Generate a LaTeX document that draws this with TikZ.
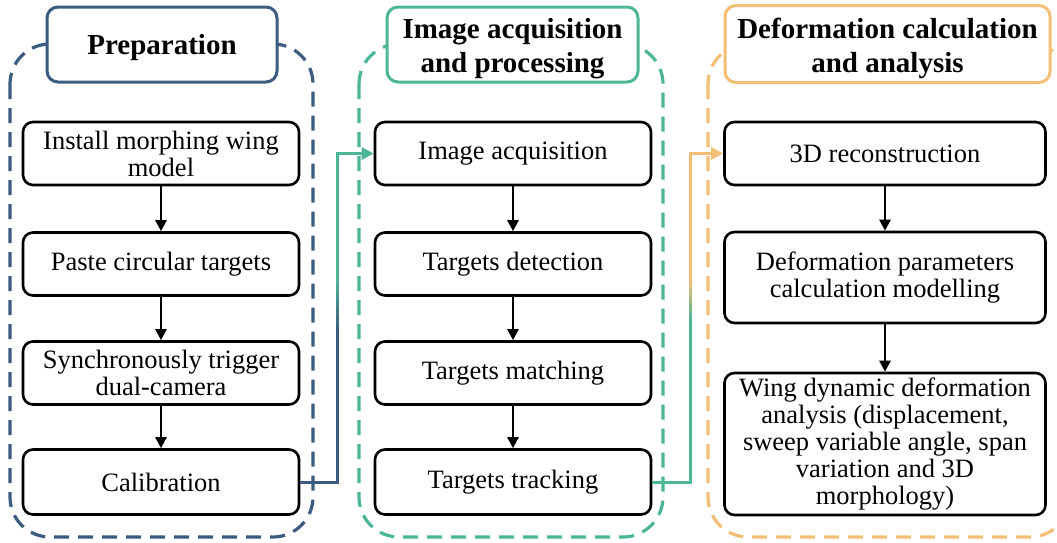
\documentclass[tikz,border=0pt]{standalone}
\usepackage{fontspec}
\setmainfont{Liberation Serif}
\usetikzlibrary{arrows.meta,calc}

\definecolor{prepblue}{RGB}{59,92,128}
\definecolor{procteal}{RGB}{77,182,150}
\definecolor{anaorange}{RGB}{245,190,118}

\tikzset{
  stepbox/.style={draw=black, line width=2.6pt, rounded corners=10pt, fill=white,
    align=center, inner sep=2pt, font=\fontsize{26.5}{27}\selectfont},
  titleframe/.style={line width=3pt, rounded corners=11pt, fill=white, inner sep=0pt},
  titletext/.style={align=center, inner sep=0pt, font=\fontsize{29}{34}\selectfont\bfseries},
  group/.style={line width=3.2pt, rounded corners=40pt, dash pattern=on 15pt off 9pt},
  flow/.style={line width=2.4pt, -{Triangle[length=11pt,width=11pt]}},
  link/.style={line width=3pt},
  linkhead/.style={line width=3pt, -{Triangle[length=12pt,width=12pt]}},
}

\begin{document}
\begin{tikzpicture}[x=1pt, y=-1pt]
\useasboundingbox (0,0) rectangle (1057,542);

% dashed group outlines
\draw[group, prepblue]  (10,44)  rectangle (313,537);
\draw[group, procteal]  (359,44) rectangle (663,537);
\draw[group, anaorange] (708,44) rectangle (1070,537);

% group titles: frame plus text
\node[titleframe, draw=prepblue, minimum width=230pt, minimum height=75pt]  (t1) at (162,44.5) {};
\node[titleframe, draw=procteal, minimum width=251pt, minimum height=75pt]  (t2) at (512.5,44.5) {};
\node[titleframe, draw=anaorange, minimum width=325pt, minimum height=77pt] (t3) at (887.5,44) {};
\node[titletext] (t1txt) at ($(t1.center)+(0,3)$) {Preparation};
\node[titletext] (t2txt) at ($(t2.center)+(0,4)$) {Image acquisition\\and processing};
\node[titletext] (t3txt) at ($(t3.center)+(0,4)$) {Deformation calculation\\and analysis};

% preparation steps
\node[stepbox, minimum width=276pt, minimum height=63pt] (p1) at (161,153.5) {Install morphing wing\\model};
\node[stepbox, minimum width=276pt, minimum height=63pt] (p2) at (161,264) {Paste circular targets};
\node[stepbox, minimum width=276pt, minimum height=63pt] (p3) at (161,373) {Synchronously trigger\\dual-camera};
\node[stepbox, minimum width=276pt, minimum height=65pt] (p4) at (161,482) {Calibration};

% image acquisition and processing steps
\node[stepbox, minimum width=276pt, minimum height=63pt] (a1) at (513,153.5) {Image acquisition};
\node[stepbox, minimum width=276pt, minimum height=63pt] (a2) at (513,264) {Targets detection};
\node[stepbox, minimum width=276pt, minimum height=63pt] (a3) at (513,373) {Targets matching};
\node[stepbox, minimum width=276pt, minimum height=65pt] (a4) at (513,482) {Targets tracking};

% deformation calculation and analysis steps
\node[stepbox, minimum width=321pt, minimum height=63pt] (d1) at (885,153.5) {3D reconstruction};
\node[stepbox, minimum width=321pt, minimum height=91pt] (d2) at (885,277.5) {Deformation parameters\\calculation modelling};
\node[stepbox, minimum width=321pt, minimum height=142pt] (d3) at (885,444) {Wing dynamic deformation\\analysis (displacement,\\sweep variable angle, span\\variation and 3D\\morphology)};

% arrows inside each group
\draw[flow] (p1) -- (p2);
\draw[flow] (p2) -- (p3);
\draw[flow] (p3) -- (p4);
\draw[flow] (a1) -- (a2);
\draw[flow] (a2) -- (a3);
\draw[flow] (a3) -- (a4);
\draw[flow] (d1) -- (d2);
\draw[flow] (d2) -- (d3);

% links between groups, with a colour blend on the rising part
\coordinate (j1lo) at (337,330);
\coordinate (j1hi) at (337,280);
\draw[link, prepblue] (p4.east) -| (j1lo);
\foreach \k in {0,...,9}{
  \pgfmathtruncatemacro\pc{\k*10+5}
  \draw[link, color=procteal!\pc!prepblue] ($(j1lo)+(0,-5*\k+0.4)$) -- ($(j1lo)+(0,-5*\k-5.4)$);
}
\draw[linkhead, procteal] (j1hi) |- (a1.west);

\coordinate (j2lo) at (690,320);
\coordinate (j2hi) at (690,280);
\draw[link, procteal] (a4.east) -| (j2lo);
\foreach \k in {0,...,9}{
  \pgfmathtruncatemacro\pc{\k*10+5}
  \draw[link, color=anaorange!\pc!procteal] ($(j2lo)+(0,-4*\k+0.4)$) -- ($(j2lo)+(0,-4*\k-4.4)$);
}
\draw[linkhead, anaorange] (j2hi) |- (d1.west);
\end{tikzpicture}
\end{document}
